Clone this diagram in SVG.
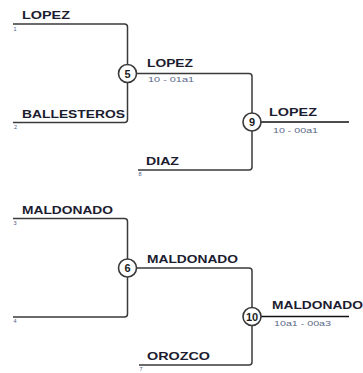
<svg xmlns="http://www.w3.org/2000/svg" width="363" height="373" viewBox="0 0 363 373">
<style>
.ln{fill:none;stroke:#3a3a3a;stroke-width:1.5;stroke-linejoin:round}
.out{fill:none;stroke:#111;stroke-width:1.5}
.nm{font-family:"Liberation Sans",Arial,sans-serif;font-weight:bold;font-size:11.5px;fill:#1c1c30}
.sd{font-family:"Liberation Sans",Arial,sans-serif;font-size:5.5px;fill:#4a5a8a}
.sc{font-family:"Liberation Sans",Arial,sans-serif;font-size:8px;fill:#5a6888}
.cc{fill:#fff;stroke:#3a3a3a;stroke-width:1.6}
.cn{font-family:"Liberation Sans",Arial,sans-serif;font-weight:bold;font-size:11px;fill:#1c1c1c;text-anchor:middle}
</style>
<rect width="363" height="373" fill="#fff"/>
<g id="connectors">
<path class="ln" d="M13,24 H124.5 Q127.5,24 127.5,27 V119.5 Q127.5,122.5 124.5,122.5 H13"/>
<path class="ln" d="M127.5,73.5 H249 Q252,73.5 252,76.5 V167 Q252,170 249,170 H138"/>
<path class="ln" d="M13,218.5 H124.5 Q127.5,218.5 127.5,221.5 V314 Q127.5,317 124.5,317 H13"/>
<path class="ln" d="M127.5,268 H249 Q252,268 252,271 V362 Q252,365 249,365 H139"/>
<path class="out" d="M252,122 H349"/>
<path class="out" d="M252,316.5 H349"/>
</g>
<g id="p1"><text class="nm" x="22" y="19" textLength="48" lengthAdjust="spacingAndGlyphs">LOPEZ</text><text class="sd" x="13.5" y="31">1</text></g>
<g id="p2"><text class="nm" x="22" y="117.5" textLength="103" lengthAdjust="spacingAndGlyphs">BALLESTEROS</text><text class="sd" x="14" y="129">2</text></g>
<g id="p8"><text class="nm" x="146" y="165" textLength="33" lengthAdjust="spacingAndGlyphs">DIAZ</text><text class="sd" x="138.5" y="176">8</text></g>
<g id="p3"><text class="nm" x="22" y="213.5" textLength="91" lengthAdjust="spacingAndGlyphs">MALDONADO</text><text class="sd" x="13.5" y="225">3</text></g>
<g id="p4"><text class="sd" x="13.5" y="323">4</text></g>
<g id="p7"><text class="nm" x="147" y="359.5" textLength="63" lengthAdjust="spacingAndGlyphs">OROZCO</text><text class="sd" x="139.5" y="371">7</text></g>
<g id="m5"><circle class="cc" cx="127.5" cy="73.5" r="9"/><text class="cn" x="127.5" y="77.5">5</text>
<text class="nm" x="147" y="66.5" textLength="46" lengthAdjust="spacingAndGlyphs">LOPEZ</text><text class="sc" x="148" y="82" textLength="46" lengthAdjust="spacingAndGlyphs">10 - 01a1</text></g>
<g id="m9"><circle class="cc" cx="252" cy="122" r="9"/><text class="cn" x="252" y="126">9</text>
<text class="nm" x="269" y="116" textLength="48" lengthAdjust="spacingAndGlyphs">LOPEZ</text><text class="sc" x="273" y="133" textLength="45" lengthAdjust="spacingAndGlyphs">10 - 00a1</text></g>
<g id="m6"><circle class="cc" cx="127.5" cy="268" r="9"/><text class="cn" x="127.5" y="272">6</text>
<text class="nm" x="147" y="262.5" textLength="91" lengthAdjust="spacingAndGlyphs">MALDONADO</text></g>
<g id="m10"><circle class="cc" cx="252" cy="316.5" r="9"/><text class="cn" x="252" y="320.5">10</text>
<text class="nm" x="272" y="308.5" textLength="91" lengthAdjust="spacingAndGlyphs">MALDONADO</text><text class="sc" x="274" y="326" textLength="57" lengthAdjust="spacingAndGlyphs">10a1 - 00a3</text></g>
</svg>
